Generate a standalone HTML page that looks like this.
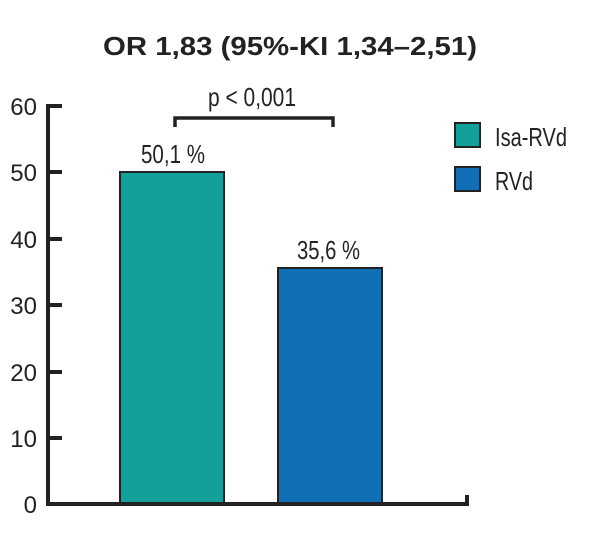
<!DOCTYPE html>
<html><head><meta charset="utf-8"><style>html,body{margin:0;padding:0;background:#fff}svg{display:block}</style></head>
<body>
<svg width="600" height="556" viewBox="0 0 600 556" xmlns="http://www.w3.org/2000/svg">
<text x="103" y="55" font-family="Liberation Sans, sans-serif" font-weight="bold" font-size="26" fill="#222" textLength="374" lengthAdjust="spacingAndGlyphs">OR 1,83 (95%-KI 1,34–2,51)</text>
<g font-family="Liberation Sans, sans-serif" font-size="24" fill="#222" text-anchor="end">
<text x="37" y="115">60</text><text x="37" y="181">50</text><text x="37" y="248">40</text>
<text x="37" y="314">30</text><text x="37" y="381">20</text><text x="37" y="447">10</text><text x="37" y="513">0</text>
</g>
<rect x="120" y="172" width="104" height="332" fill="#12a19a" stroke="#222" stroke-width="2"/>
<rect x="278" y="268" width="104" height="236" fill="#116fb6" stroke="#222" stroke-width="2"/>
<g stroke="#222" stroke-width="4" fill="none">
<path d="M48 104 V504 H467 V495"/>
<path d="M48 106 H62 M48 172 H62 M48 239 H62 M48 305 H62 M48 372 H62 M48 438 H62"/>
<path d="M175 127 V118 H333 V127" stroke-width="3.5"/>
</g>
<g font-family="Liberation Sans, sans-serif" font-size="26" fill="#222">
<text x="208" y="106" textLength="88" lengthAdjust="spacingAndGlyphs">p &lt; 0,001</text>
<text x="141" y="163" textLength="64" lengthAdjust="spacingAndGlyphs">50,1 %</text>
<text x="297" y="259" textLength="63" lengthAdjust="spacingAndGlyphs">35,6 %</text>
<text x="495" y="146" textLength="72" lengthAdjust="spacingAndGlyphs">Isa-RVd</text>
<text x="495" y="190" textLength="38" lengthAdjust="spacingAndGlyphs">RVd</text>
</g>
<rect x="455" y="123" width="25" height="24" fill="#12a19a" stroke="#222" stroke-width="2"/>
<rect x="455" y="167" width="25" height="24" fill="#116fb6" stroke="#222" stroke-width="2"/>
</svg>
</body></html>
